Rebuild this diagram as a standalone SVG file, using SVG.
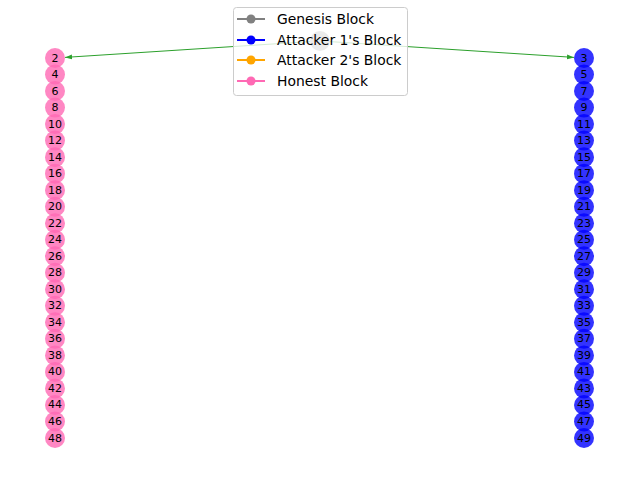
<svg xmlns="http://www.w3.org/2000/svg" width="640" height="480" viewBox="0 0 640 480">
<defs>
<style>
.h{fill:#ff69b4;fill-opacity:0.8}
.a{fill:#0000ff;fill-opacity:0.8}
.g{fill:#808080;fill-opacity:0.8}
.t{font-family:"DejaVu Sans",sans-serif;font-size:11px;fill:#000;text-anchor:middle;dominant-baseline:central}
.e{stroke:#2ca02c;stroke-width:1;fill:none;marker-end:url(#arr)}
.lt{font-family:"DejaVu Sans",sans-serif;font-size:13.9px;fill:#000;dominant-baseline:central}
</style>
<marker id="arr" viewBox="0 0 10 10" refX="10" refY="5" markerWidth="7" markerHeight="7" markerUnits="userSpaceOnUse" orient="auto">
<path d="M0,1.5 L10,5 L0,8.5 Z" fill="#2ca02c"/>
</marker>
</defs>
<rect width="640" height="480" fill="#fff"/>
<g id="edges">
<line class="e" x1="310" y1="41.6" x2="65" y2="57.4"/>
<line class="e" x1="330" y1="41.6" x2="574" y2="57.4"/>
</g>
<g id="n1"><circle class="g" cx="320" cy="41" r="10"/></g>
<g id="n2"><circle class="h" cx="55" cy="58" r="10"/><text class="t" x="55" y="58">2</text></g>
<g id="n4"><circle class="h" cx="55" cy="74.52" r="10"/><text class="t" x="55" y="74.52">4</text></g>
<g id="n6"><circle class="h" cx="55" cy="91.04" r="10"/><text class="t" x="55" y="91.04">6</text></g>
<g id="n8"><circle class="h" cx="55" cy="107.57" r="10"/><text class="t" x="55" y="107.57">8</text></g>
<g id="n10"><circle class="h" cx="55" cy="124.09" r="10"/><text class="t" x="55" y="124.09">10</text></g>
<g id="n12"><circle class="h" cx="55" cy="140.61" r="10"/><text class="t" x="55" y="140.61">12</text></g>
<g id="n14"><circle class="h" cx="55" cy="157.13" r="10"/><text class="t" x="55" y="157.13">14</text></g>
<g id="n16"><circle class="h" cx="55" cy="173.65" r="10"/><text class="t" x="55" y="173.65">16</text></g>
<g id="n18"><circle class="h" cx="55" cy="190.17" r="10"/><text class="t" x="55" y="190.17">18</text></g>
<g id="n20"><circle class="h" cx="55" cy="206.7" r="10"/><text class="t" x="55" y="206.7">20</text></g>
<g id="n22"><circle class="h" cx="55" cy="223.22" r="10"/><text class="t" x="55" y="223.22">22</text></g>
<g id="n24"><circle class="h" cx="55" cy="239.74" r="10"/><text class="t" x="55" y="239.74">24</text></g>
<g id="n26"><circle class="h" cx="55" cy="256.26" r="10"/><text class="t" x="55" y="256.26">26</text></g>
<g id="n28"><circle class="h" cx="55" cy="272.78" r="10"/><text class="t" x="55" y="272.78">28</text></g>
<g id="n30"><circle class="h" cx="55" cy="289.3" r="10"/><text class="t" x="55" y="289.3">30</text></g>
<g id="n32"><circle class="h" cx="55" cy="305.83" r="10"/><text class="t" x="55" y="305.83">32</text></g>
<g id="n34"><circle class="h" cx="55" cy="322.35" r="10"/><text class="t" x="55" y="322.35">34</text></g>
<g id="n36"><circle class="h" cx="55" cy="338.87" r="10"/><text class="t" x="55" y="338.87">36</text></g>
<g id="n38"><circle class="h" cx="55" cy="355.39" r="10"/><text class="t" x="55" y="355.39">38</text></g>
<g id="n40"><circle class="h" cx="55" cy="371.91" r="10"/><text class="t" x="55" y="371.91">40</text></g>
<g id="n42"><circle class="h" cx="55" cy="388.43" r="10"/><text class="t" x="55" y="388.43">42</text></g>
<g id="n44"><circle class="h" cx="55" cy="404.96" r="10"/><text class="t" x="55" y="404.96">44</text></g>
<g id="n46"><circle class="h" cx="55" cy="421.48" r="10"/><text class="t" x="55" y="421.48">46</text></g>
<g id="n48"><circle class="h" cx="55" cy="438" r="10"/><text class="t" x="55" y="438">48</text></g>
<g id="n3"><circle class="a" cx="584" cy="58" r="10"/><text class="t" x="584" y="58">3</text></g>
<g id="n5"><circle class="a" cx="584" cy="74.52" r="10"/><text class="t" x="584" y="74.52">5</text></g>
<g id="n7"><circle class="a" cx="584" cy="91.04" r="10"/><text class="t" x="584" y="91.04">7</text></g>
<g id="n9"><circle class="a" cx="584" cy="107.57" r="10"/><text class="t" x="584" y="107.57">9</text></g>
<g id="n11"><circle class="a" cx="584" cy="124.09" r="10"/><text class="t" x="584" y="124.09">11</text></g>
<g id="n13"><circle class="a" cx="584" cy="140.61" r="10"/><text class="t" x="584" y="140.61">13</text></g>
<g id="n15"><circle class="a" cx="584" cy="157.13" r="10"/><text class="t" x="584" y="157.13">15</text></g>
<g id="n17"><circle class="a" cx="584" cy="173.65" r="10"/><text class="t" x="584" y="173.65">17</text></g>
<g id="n19"><circle class="a" cx="584" cy="190.17" r="10"/><text class="t" x="584" y="190.17">19</text></g>
<g id="n21"><circle class="a" cx="584" cy="206.7" r="10"/><text class="t" x="584" y="206.7">21</text></g>
<g id="n23"><circle class="a" cx="584" cy="223.22" r="10"/><text class="t" x="584" y="223.22">23</text></g>
<g id="n25"><circle class="a" cx="584" cy="239.74" r="10"/><text class="t" x="584" y="239.74">25</text></g>
<g id="n27"><circle class="a" cx="584" cy="256.26" r="10"/><text class="t" x="584" y="256.26">27</text></g>
<g id="n29"><circle class="a" cx="584" cy="272.78" r="10"/><text class="t" x="584" y="272.78">29</text></g>
<g id="n31"><circle class="a" cx="584" cy="289.3" r="10"/><text class="t" x="584" y="289.3">31</text></g>
<g id="n33"><circle class="a" cx="584" cy="305.83" r="10"/><text class="t" x="584" y="305.83">33</text></g>
<g id="n35"><circle class="a" cx="584" cy="322.35" r="10"/><text class="t" x="584" y="322.35">35</text></g>
<g id="n37"><circle class="a" cx="584" cy="338.87" r="10"/><text class="t" x="584" y="338.87">37</text></g>
<g id="n39"><circle class="a" cx="584" cy="355.39" r="10"/><text class="t" x="584" y="355.39">39</text></g>
<g id="n41"><circle class="a" cx="584" cy="371.91" r="10"/><text class="t" x="584" y="371.91">41</text></g>
<g id="n43"><circle class="a" cx="584" cy="388.43" r="10"/><text class="t" x="584" y="388.43">43</text></g>
<g id="n45"><circle class="a" cx="584" cy="404.96" r="10"/><text class="t" x="584" y="404.96">45</text></g>
<g id="n47"><circle class="a" cx="584" cy="421.48" r="10"/><text class="t" x="584" y="421.48">47</text></g>
<g id="n49"><circle class="a" cx="584" cy="438" r="10"/><text class="t" x="584" y="438">49</text></g>
<g id="legend">
<rect x="233.5" y="7.5" width="174" height="88" rx="3" fill="#fff" fill-opacity="0.8" stroke="#cccccc" stroke-width="1"/>
<line x1="237" y1="19" x2="265" y2="19" stroke="#808080" stroke-width="2"/><circle cx="251" cy="19" r="4.5" fill="#808080"/>
<text class="lt" x="277" y="19">Genesis Block</text>
<line x1="237" y1="40" x2="265" y2="40" stroke="#0000ff" stroke-width="2"/><circle cx="251" cy="40" r="4.5" fill="#0000ff"/>
<text class="lt" x="277" y="40">Attacker 1's Block</text>
<line x1="237" y1="60" x2="265" y2="60" stroke="#ffa500" stroke-width="2"/><circle cx="251" cy="60" r="4.5" fill="#ffa500"/>
<text class="lt" x="277" y="60">Attacker 2's Block</text>
<line x1="237" y1="81" x2="265" y2="81" stroke="#ff69b4" stroke-width="2"/><circle cx="251" cy="81" r="4.5" fill="#ff69b4"/>
<text class="lt" x="277" y="81">Honest Block</text>
</g>
</svg>
